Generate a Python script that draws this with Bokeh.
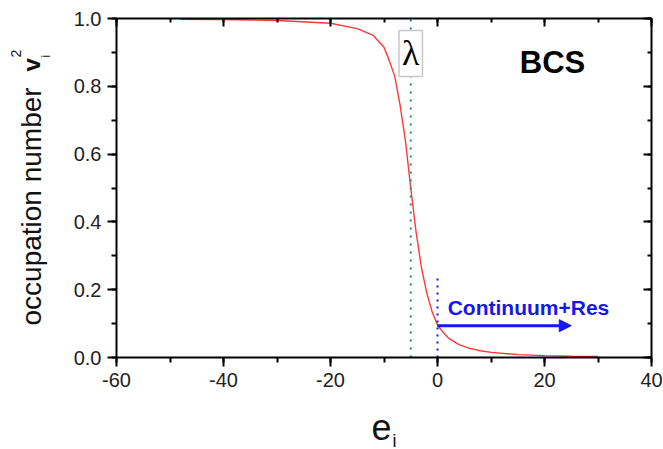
from bokeh.plotting import figure
from bokeh.models import (LinearAxis, Label, Arrow, NormalHead,
                          SingleIntervalTicker, PrintfTickFormatter, Range1d,
                          CustomLabelingPolicy)
from bokeh.embed import file_html
from bokeh.resources import INLINE
from math import pi

# ---- data ----
e_vals = [-48, -40, -30, -20, -15, -12, -10, -9, -8, -7, -6, -5, -4, -3, -2,
          -1, 0, 1, 2, 4, 6, 8, 10, 15, 20, 25, 30]
v2_vals = [0.998, 0.997, 0.994, 0.986, 0.970, 0.950, 0.915, 0.875, 0.830,
           0.745, 0.640, 0.500, 0.370, 0.265, 0.190, 0.135, 0.096, 0.075,
           0.058, 0.038, 0.027, 0.020, 0.015, 0.0086, 0.0055, 0.0039, 0.003]
lam = -5.0                 # chemical potential lambda
cont_start = 0.0           # continuum threshold
cont_marker_top = 0.236
arrow_level = 0.094
arrow_end = 25.0
x_lo, x_hi = -60, 40
y_lo, y_hi = 0.0, 1.0
x_ticks_interval = 20
y_ticks_interval = 0.2

FONT = "Liberation Sans"
BLUE = "#1616f0"
TEAL = "#178c8c"
TXT = "#111111"

# layout: plot box spans pixels 116..651 (x) and 18..357 (y) of a 663x449 canvas
W, H = 663, 449
PL, PR, PT, PB = 116, 651, 18, 357
sx = (PR - PL) / (x_hi - x_lo)
sy = (PB - PT) / (y_hi - y_lo)


def dx(px):
    return x_lo + (px - PL) / sx


def dy(py):
    return y_lo + (PB - py) / sy


p = figure(width=W, height=H, x_range=Range1d(dx(0), dx(W)),
           y_range=Range1d(dy(H), dy(0)),
           output_backend="svg", toolbar_location=None,
           min_border_left=0, min_border_right=0, min_border_top=0,
           min_border_bottom=0)
p.xgrid.visible = False
p.ygrid.visible = False
p.outline_line_color = None
p.background_fill_color = "white"
p.border_fill_color = "white"

no_labels = CustomLabelingPolicy(code="return []")


def style(ax, ticker, outward, labels=True):
    ax.ticker = ticker
    ax.axis_line_width = 2
    ax.axis_line_color = "black"
    ax.major_tick_line_width = 2
    ax.minor_tick_line_width = 2
    ax.major_tick_line_color = "black"
    ax.minor_tick_line_color = "black"
    if outward:
        ax.major_tick_out, ax.major_tick_in = 9, 0
        ax.minor_tick_out, ax.minor_tick_in = 5, 0
    else:
        ax.major_tick_out, ax.major_tick_in = 0, 8
        ax.minor_tick_out, ax.minor_tick_in = 0, 4
    if labels:
        ax.major_label_text_font = FONT
        ax.major_label_text_font_size = "20px"
        ax.major_label_text_color = "#222222"
        ax.major_label_standoff = 6
    else:
        ax.major_label_policy = no_labels
        ax.major_label_standoff = 0


xt = SingleIntervalTicker(interval=x_ticks_interval, num_minor_ticks=2)
yt = SingleIntervalTicker(interval=y_ticks_interval, num_minor_ticks=2)

bottom = p.xaxis[0]
style(bottom, xt, True)
bottom.fixed_location = y_lo
bottom.bounds = (x_lo, x_hi)
bottom.formatter = PrintfTickFormatter(format="%d")

left = p.yaxis[0]
style(left, yt, True)
left.fixed_location = x_lo
left.bounds = (y_lo, y_hi)
left.formatter = PrintfTickFormatter(format="%.1f")

top = LinearAxis(fixed_location=y_hi, bounds=(x_lo, x_hi))
style(top, xt, False, labels=False)
p.add_layout(top, "above")
right = LinearAxis(fixed_location=x_hi, bounds=(y_lo, y_hi))
style(right, yt, False, labels=False)
p.add_layout(right, "right")

# curve
p.line(e_vals, v2_vals, line_color="#ff3838", line_width=1.4)

# lambda line and label
p.segment(x0=[lam], y0=[y_lo], x1=[lam], y1=[y_hi], line_color=TEAL,
          line_dash="2 6", line_width=2)
p.add_layout(Label(x=lam, y=0.897, text="λ", text_align="center",
                   text_baseline="middle", text_font="Liberation Serif",
                   text_font_size="36px", text_color="black",
                   background_fill_color="white", border_line_color="#c8c8c8",
                   border_line_width=1.5, padding=3))

# continuum marker
p.segment(x0=[cont_start], y0=[y_lo], x1=[cont_start], y1=[cont_marker_top],
          line_color=BLUE, line_dash="2 5", line_width=2)
p.add_layout(Arrow(x_start=cont_start, y_start=arrow_level, x_end=arrow_end,
                   y_end=arrow_level, line_color=BLUE, line_width=3,
                   end=NormalHead(size=12, fill_color=BLUE, line_color=BLUE)))
p.add_layout(Label(x=1.9, y=0.1475, text="Continuum+Res", text_font=FONT,
                   text_font_style="bold", text_font_size="21px",
                   text_color=BLUE, text_baseline="middle"))

# BCS
p.add_layout(Label(x=21.5, y=0.87, text="BCS", text_font=FONT,
                   text_font_style="bold", text_font_size="31px",
                   text_color="black", text_align="center",
                   text_baseline="middle"))

# axis titles (mixed styling, so drawn as labels)
p.add_layout(Label(x=dx(31), y=dy(325), text="occupation number", angle=pi / 2,
                   text_font=FONT, text_font_size="28px", text_color=TXT,
                   text_align="left", text_baseline="alphabetic"))
p.add_layout(Label(x=dx(31), y=dy(71), text="v", angle=pi / 2,
                   text_font=FONT, text_font_style="bold", text_font_size="24px",
                   text_color=TXT, text_align="left",
                   text_baseline="alphabetic"))
p.add_layout(Label(x=dx(15), y=dy(57), text="2", angle=pi / 2,
                   text_font=FONT, text_font_size="14px", text_color=TXT,
                   text_align="left", text_baseline="alphabetic"))
p.add_layout(Label(x=dx(45), y=dy(57), text="i", angle=pi / 2,
                   text_font=FONT, text_font_size="12px", text_color=TXT,
                   text_align="left", text_baseline="alphabetic"))

p.add_layout(Label(x=dx(381), y=dy(426), text="e", text_font=FONT,
                   text_font_size="36px", text_color=TXT,
                   text_align="center", text_baseline="alphabetic"))
p.add_layout(Label(x=dx(394), y=dy(440), text="i", text_font=FONT,
                   text_font_size="18px", text_color=TXT,
                   text_align="center", text_baseline="alphabetic"))

open("out.html", "w").write(file_html(p, INLINE))
